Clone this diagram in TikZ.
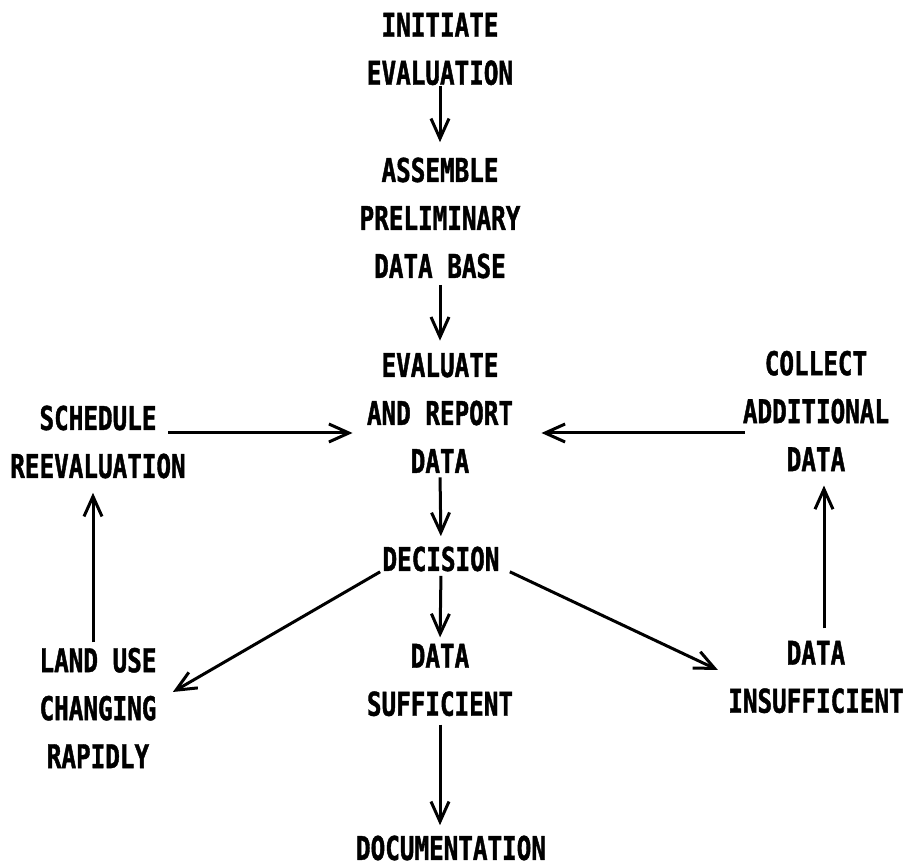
\documentclass[tikz,border=0pt]{standalone}
\usepackage{fontspec}
\newfontfamily\labfont[FakeStretch=0.74,FakeBold=1.2]{DejaVu Sans Mono}
\usetikzlibrary{arrows.meta,calc}
\tikzset{
  lbl/.style={font=\labfont\bfseries\fontsize{16.4}{24}\selectfont, align=center, inner sep=0pt},
  flow/.style={-{Straight Barb[length=10pt,width=9pt]}, line width=1.5pt},
}
\begin{document}
\begin{tikzpicture}[x=0.5pt,y=-0.5pt]
\useasboundingbox (0,0) rectangle (907,865);
% nodes
\node[lbl] (init)     at (440,49)  {INITIATE\\EVALUATION};
\node[lbl] (assemble) at (440,218) {ASSEMBLE\\PRELIMINARY\\DATA BASE};
\node[lbl] (evalrep)  at (440,413) {EVALUATE\\AND REPORT\\DATA};
\node[lbl] (sched)    at (98,442)  {SCHEDULE\\REEVALUATION};
\node[lbl] (collect)  at (816,411) {COLLECT\\ADDITIONAL\\DATA};
\node[lbl] (decision) at (441,559) {DECISION};
\node[lbl] (landuse)  at (98,708)  {LAND USE\\CHANGING\\RAPIDLY};
\node[lbl] (suff)     at (440,680) {DATA\\SUFFICIENT};
\node[lbl] (insuff)   at (816,677) {DATA\\INSUFFICIENT};
\node[lbl] (doc)      at (451,848) {DOCUMENTATION};
% vertical main flow
\draw[flow, shorten <=0pt, shorten >=7.5pt] (init.south) -- (assemble.north);
\draw[flow, shorten <=3pt, shorten >=6pt] (assemble.south) -- (evalrep.north);
\draw[flow, shorten <=2pt, shorten >=5pt] (evalrep.south) -- (decision.north);
\draw[flow, shorten <=2pt, shorten >=3pt] (decision.south) -- (suff.north);
\draw[flow, shorten <=4pt, shorten >=5pt] (suff.south) -- (suff.south |- doc.north);
% horizontal arrows into evaluate
\draw[flow] ($(sched.east)+(-18,-9)$) -- ($(evalrep.west)+(-14,20)$);
\draw[flow] ($(collect.west)+(2,22)$) -- ($(evalrep.east)+(28,20)$);
% side vertical arrows
\draw[flow] ($(landuse.north)+(-5,-5)$) -- ($(sched.south)+(-5,14)$);
\draw[flow] ($(insuff.north)+(8,-12)$) -- ($(collect.south)+(8,14)$);
% diagonals
\draw[flow] ($(decision.south west)+(-2,0)$) -- ($(landuse.east)+(16,-16)$);
\draw[flow] ($(decision.south east)+(10,0)$) -- ($(insuff.west)+(-10,-7)$);
\end{tikzpicture}
\end{document}
